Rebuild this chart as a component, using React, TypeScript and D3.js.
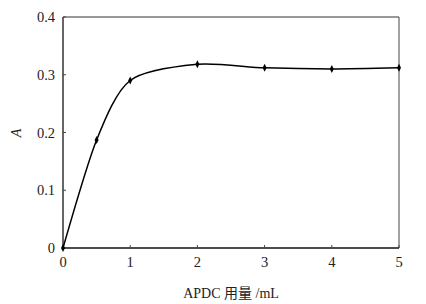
import React from "react";
import * as d3 from "d3";

const xValues = [0, 0.5, 1, 2, 3, 4, 5];
const yValues = [0, 0.187, 0.29, 0.318, 0.312, 0.31, 0.312];
const xTicks = [0, 1, 2, 3, 4, 5];
const yTicks = [0, 0.1, 0.2, 0.3, 0.4];
const yTickLabels = ["0", "0.1", "0.2", "0.3", "0.4"];
const xLabel = "APDC 用量 /mL";
const yLabel = "A";

const W = 426;
const H = 304;
const M = { left: 63, right: 399, top: 17, bottom: 248 };
const FONT = "Liberation Serif, DejaVu Serif, Noto Sans CJK SC, serif";

export default function App() {
  const x = d3.scaleLinear().domain([0, 5]).range([M.left, M.right]);
  const y = d3.scaleLinear().domain([0, 0.4]).range([M.bottom, M.top]);
  const pts: [number, number][] = xValues.map((v, i) => [x(v), y(yValues[i])]);
  const line = d3.line().curve(d3.curveCardinal.tension(0.2))(pts) || "";
  const textStyle = { fontFamily: FONT } as React.CSSProperties;

  return (
    <svg width={W} height={H} style={{ position: "absolute", left: 0, top: 0, background: "#fff" }}>
      <rect x={0} y={0} width={W} height={H} fill="#fff" />
      <line x1={M.left} x2={M.right} y1={M.top} y2={M.top} stroke="#333" strokeWidth={1} />
      <line x1={M.right} x2={M.right} y1={M.top} y2={M.bottom} stroke="#444" strokeWidth={1} />
      <line x1={M.left} x2={M.left} y1={M.top} y2={M.bottom} stroke="#666" strokeWidth={2} />
      <line x1={M.left} x2={M.right} y1={M.bottom} y2={M.bottom} stroke="#111" strokeWidth={1.5} />
      {yTicks.map((t, i) => (
        <g key={"y" + i}>
          <line x1={M.left} x2={M.left + 3} y1={y(t)} y2={y(t)} stroke="#444" strokeWidth={1} />
          <text x={55} y={y(t)} dy="0.35em" textAnchor="end" style={textStyle} fontSize={14.5} fill="#222">
            {yTickLabels[i]}
          </text>
        </g>
      ))}
      {xTicks.map((t, i) => (
        <g key={"x" + i}>
          <line x1={x(t)} x2={x(t)} y1={M.bottom} y2={M.bottom - 3} stroke="#444" strokeWidth={1} />
          <text x={x(t)} y={267} textAnchor="middle" style={textStyle} fontSize={14.5} fill="#222">
            {String(t)}
          </text>
        </g>
      ))}
      <path d={line} fill="none" stroke="#000" strokeWidth={1.5} />
      {pts.map(([px, py], i) => (
        <path key={"m" + i} d={`M${px},${py - 4}L${px + 2},${py}L${px},${py + 4}L${px - 2},${py}Z`} fill="#000" />
      ))}
      <text x={231} y={298} textAnchor="middle" style={textStyle} fontSize={14} fill="#222">
        {xLabel}
      </text>
      <text
        transform={`translate(21,133) rotate(-90)`}
        textAnchor="middle"
        style={{ ...textStyle, fontStyle: "italic" }}
        fontSize={14}
        fill="#222"
      >
        {yLabel}
      </text>
    </svg>
  );
}
